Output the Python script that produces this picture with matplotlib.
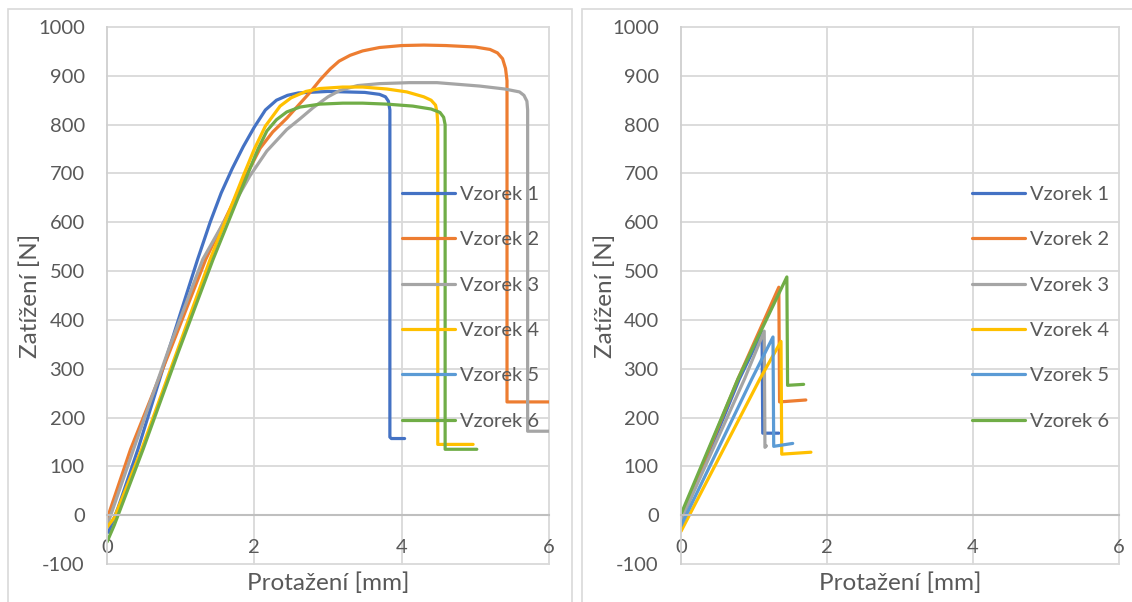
import matplotlib.pyplot as plt
from matplotlib.patches import Rectangle

plt.rcParams['font.family'] = ['Lato', 'DejaVu Sans']
plt.rcParams['axes.unicode_minus'] = False

nazvy = ["Vzorek 1", "Vzorek 2", "Vzorek 3", "Vzorek 4", "Vzorek 5", "Vzorek 6"]
barvy = ["#4472C4", "#ED7D31", "#A5A5A5", "#FFC000", "#5B9BD5", "#70AD47"]

# levy graf - protazeni [mm] a zatizeni [N]
v1_x = [0.02, 0.15, 0.42, 0.8, 1.23, 1.4, 1.55, 1.7, 1.85, 2.0, 2.15, 2.3, 2.45, 2.6, 3.0, 3.5, 3.7, 3.78, 3.82, 3.84, 3.84, 3.86, 4.04]
v1_y = [-35, 15, 135, 320, 524, 600, 660, 710, 755, 795, 830, 850, 860, 865, 868, 866, 862, 857, 848, 830, 160, 157, 157]
v2_x = [0.0, 0.32, 0.85, 1.34, 1.87, 2.08, 2.25, 2.44, 2.6, 2.75, 2.9, 3.03, 3.15, 3.3, 3.47, 3.7, 4.0, 4.3, 4.6, 5.0, 5.2, 5.3, 5.37, 5.41, 5.43, 5.43, 6.0]
v2_y = [-8, 135, 335, 524, 690, 752, 785, 813, 840, 865, 893, 914, 930, 942, 951, 958, 962, 963, 962, 959, 954, 947, 935, 915, 890, 232, 232]
v3_x = [0.0, 0.36, 0.85, 1.3, 1.94, 2.17, 2.44, 2.62, 2.8, 3.0, 3.16, 3.4, 3.7, 4.1, 4.48, 5.06, 5.4, 5.6, 5.66, 5.7, 5.71, 5.71, 6.0]
v3_y = [-22, 135, 345, 524, 695, 746, 790, 812, 835, 857, 870, 880, 884, 886, 886, 879, 873, 867, 860, 848, 830, 172, 172]
v4_x = [0.0, 0.1, 0.47, 0.95, 1.4, 1.85, 2.0, 2.15, 2.35, 2.5, 2.7, 2.89, 3.2, 3.47, 3.8, 4.07, 4.3, 4.4, 4.46, 4.48, 4.49, 4.49, 4.97]
v4_y = [-25, -5, 135, 335, 524, 695, 750, 797, 838, 855, 868, 874, 877, 877, 873, 867, 857, 850, 840, 825, 800, 145, 145]
v5_x = []
v5_y = []
v6_x = [0.0, 0.1, 0.49, 0.97, 1.44, 1.9, 2.05, 2.17, 2.3, 2.44, 2.62, 2.89, 3.2, 3.47, 3.8, 4.15, 4.4, 4.52, 4.57, 4.59, 4.59, 5.02]
v6_y = [-55, -20, 135, 335, 524, 695, 750, 787, 810, 826, 836, 842, 844, 844, 842, 838, 832, 825, 815, 800, 135, 135]

# pravy graf
p1_x = [0.0, 0.8, 1.11, 1.12, 1.15, 1.34]
p1_y = [-12, 279, 375, 168, 168, 168]
p2_x = [0.0, 0.78, 1.34, 1.35, 1.71]
p2_y = [-5, 279, 467, 232, 236]
p3_x = [0.0, 0.87, 1.14, 1.15, 1.17]
p3_y = [-10, 279, 377, 139, 142]
p4_x = [0.0, 1.08, 1.37, 1.38, 1.78]
p4_y = [-33, 279, 356, 125, 129]
p5_x = [0.0, 0.97, 1.26, 1.27, 1.53]
p5_y = [-22, 279, 365, 141, 147]
p6_x = [0.0, 0.78, 1.45, 1.46, 1.68]
p6_y = [2, 279, 488, 266, 268]

leve = [(v1_x, v1_y), (v2_x, v2_y), (v3_x, v3_y), (v4_x, v4_y), (v5_x, v5_y), (v6_x, v6_y)]
prave = [(p1_x, p1_y), (p2_x, p2_y), (p3_x, p3_y), (p4_x, p4_y), (p5_x, p5_y), (p6_x, p6_y)]

W, H = 1132, 602
fig = plt.figure(figsize=(W / 100, H / 100), dpi=100)

# ramecky obou grafu
for x0, x1 in [(8, 572), (582, 1140)]:
    fig.patches.append(Rectangle((x0 / W, -0.1), (x1 - x0) / W, (H - 9) / H + 0.1,
                                 transform=fig.transFigure, fill=False,
                                 edgecolor="#d9d9d9", lw=1.2))

seda = "#595959"
fs = 14.5


def graf(left, right, data, leg_x, ylab_x):
    ax = fig.add_axes([left / W, 1 - 564 / H, (right - left) / W, (564 - 27) / H])
    ax.set_xlim(0, 6)
    ax.set_ylim(-100, 1000)
    for y in range(-100, 1001, 100):
        ax.axhline(y, color="#d9d9d9", lw=1.3, zorder=0, clip_on=False)
    for x in [2, 4, 6]:
        ax.axvline(x, color="#d9d9d9", lw=1.3, zorder=0, clip_on=False)
    for s in ["top", "right"]:
        ax.spines[s].set_visible(False)
    ax.spines["left"].set_color("#cfcfcf")
    ax.spines["left"].set_linewidth(1.3)
    ax.spines["bottom"].set_position(("data", 0))
    ax.spines["bottom"].set_color("#bfbfbf")
    ax.spines["bottom"].set_linewidth(1.5)
    ax.set_xticks([0, 2, 4, 6])
    ax.set_yticks(range(-100, 1001, 100))
    ax.tick_params(axis="x", length=0, pad=17, labelsize=fs, labelcolor=seda)
    ax.tick_params(axis="y", length=0, pad=16, labelsize=fs, labelcolor=seda)

    for (xs, ys), nazev, barva in zip(data, nazvy, barvy):
        ax.plot(xs, ys, color=barva, lw=2.3, label=nazev,
                solid_joinstyle="round", solid_capstyle="round")

    ax.set_xlabel("Protažení [mm]", fontsize=17.5, color=seda)
    ax.set_ylabel("Zatížení [N]", fontsize=17.5, color=seda)
    ax.xaxis.set_label_coords(0.5, (564 - 583) / 537)
    ax.xaxis.label.set_va("center")
    ax.yaxis.set_label_coords((ylab_x - left) / (right - left), 0.5)
    ax.yaxis.label.set_va("center")

    leg = ax.legend(loc="upper left", bbox_to_anchor=(leg_x / W, 1 - 186 / H),
                    bbox_transform=fig.transFigure, frameon=False, fontsize=fs,
                    handlelength=2.65, handletextpad=0.25, labelspacing=1.4,
                    borderpad=0, borderaxespad=0)
    for t in leg.get_texts():
        t.set_color(seda)
    return ax


graf(107, 549, leve, 402, 30)
graf(681, 1119, prave, 972, 605)

fig.savefig("out.png", dpi=100)
